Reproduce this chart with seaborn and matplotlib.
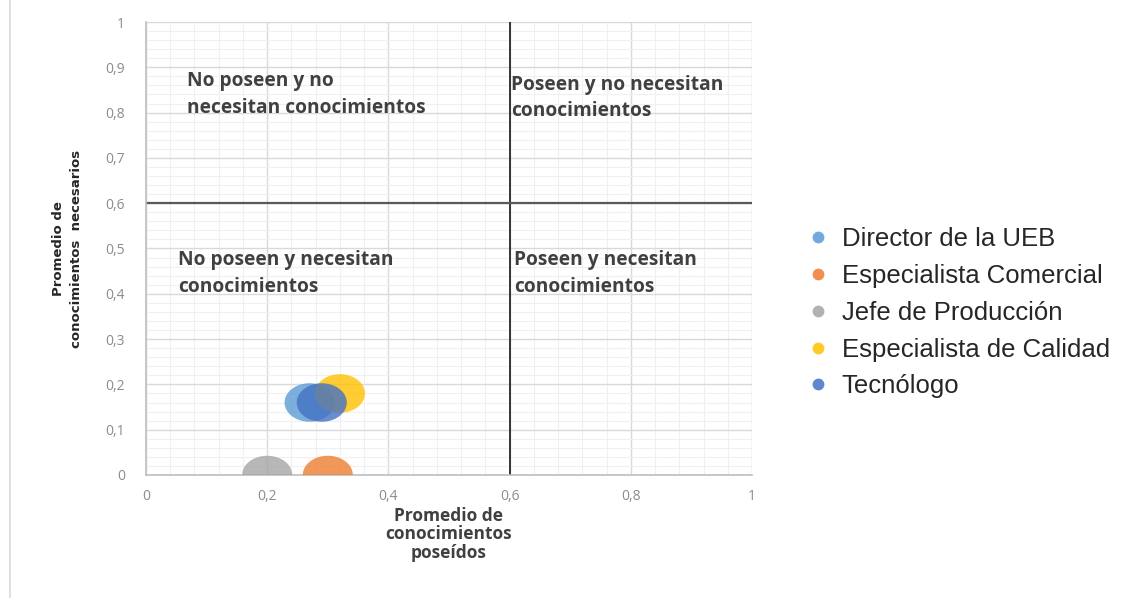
import numpy as np
import pandas as pd
import matplotlib.pyplot as plt
import seaborn as sns
from matplotlib.path import Path
from matplotlib.lines import Line2D
from matplotlib.ticker import MultipleLocator, FuncFormatter

# Data
cargos = ["Director de la UEB", "Especialista Comercial", "Jefe de Producción",
          "Especialista de Calidad", "Tecnólogo"]
poseidos = [0.27, 0.30, 0.20, 0.32, 0.29]
necesarios = [0.16, 0.0, 0.0, 0.18, 0.16]
colores = ["#5B9BD5", "#ED7D31", "#A5A5A5", "#FFC000", "#4472C4"]

cuadrantes = ["No poseen y no\nnecesitan conocimientos",
              "Poseen y no necesitan\nconocimientos",
              "No poseen y necesitan\nconocimientos",
              "Poseen y necesitan\nconocimientos"]
cuad_x = [0.068, 0.602, 0.053, 0.607]
cuad_y = [0.84, 0.832, 0.445, 0.445]

df = pd.DataFrame({"cargo": cargos, "poseidos": poseidos, "necesarios": necesarios})

sns.set_style("white")
plt.rcParams['font.family'] = ['Open Sans', 'DejaVu Sans']

fig = plt.figure(figsize=(11.35, 5.98), dpi=100)
ax = fig.add_axes([146/1135, 123/598, 606/1135, 453/598])

# ellipse shaped bubble (chart image is stretched horizontally)
t = np.linspace(0, 2*np.pi, 80)
elipse = Path(np.column_stack([1.3*np.cos(t), np.sin(t)]))

sns.scatterplot(data=df, x="poseidos", y="necesarios", hue="cargo",
                palette=colores, marker=elipse, s=1300, alpha=0.8,
                linewidth=0, legend=False, ax=ax, zorder=3)

# grid
ax.set_xlim(0, 1)
ax.set_ylim(0, 1)
ax.xaxis.set_major_locator(MultipleLocator(0.2))
ax.yaxis.set_major_locator(MultipleLocator(0.1))
ax.xaxis.set_minor_locator(MultipleLocator(0.04))
ax.yaxis.set_minor_locator(MultipleLocator(0.02))
ax.grid(True, which='major', color='#D9D9D9', linewidth=1.0)
ax.grid(True, which='minor', color='#F0F0F0', linewidth=0.8)
ax.set_axisbelow(True)

fmt = FuncFormatter(lambda v, p: ("%g" % round(v, 2)).replace(".", ","))
ax.xaxis.set_major_formatter(fmt)
ax.yaxis.set_major_formatter(fmt)
ax.tick_params(axis='both', which='major', colors='#BFBFBF', labelcolor='#8C8C8C',
               labelsize=10, length=5, width=1, direction='out')
ax.tick_params(axis='both', which='minor', length=0)
ax.tick_params(axis='x', pad=5)
ax.tick_params(axis='y', pad=10)

for s in ['top', 'right']:
    ax.spines[s].set_visible(False)
for s in ['left', 'bottom']:
    ax.spines[s].set_color('#BFBFBF')
    ax.spines[s].set_linewidth(1.2)

# quadrant lines
ax.axvline(0.6, color='#262626', linewidth=1.3, zorder=2)
ax.axhline(0.6, color='#595959', linewidth=1.6, zorder=2)

for txt, x, y in zip(cuadrantes, cuad_x, cuad_y):
    ax.text(x, y, txt, fontsize=13.8, color='#404040', fontweight='bold',
            ha='left', va='center', linespacing=1.45)

ax.set_xlabel("Promedio de\nconocimientos\nposeídos", fontsize=12.5,
              fontweight='bold', color='#404040', linespacing=1.05, labelpad=2)
ax.set_ylabel("Promedio de\nconocimientos  necesarios", fontsize=9.5,
              fontweight='bold', color='#262626', linespacing=1.5, labelpad=16,
              family=['Liberation Sans Narrow', 'DejaVu Sans'])

# legend
handles = [Line2D([0], [0], marker='o', linestyle='', markersize=8.5,
                  markerfacecolor=c, markeredgecolor='none', alpha=0.85) for c in colores]
fig.legend(handles, cargos, loc='upper left', bbox_to_anchor=(812/1135, 1 - 227/598),
           frameon=False, prop={'family': 'Liberation Sans', 'size': 18.5},
           handlelength=0.5, handletextpad=0.65, labelspacing=0.5, borderpad=0,
           borderaxespad=0, labelcolor='#262626')

# outer frame line on the left
fig.add_artist(Line2D([10/1135, 10/1135], [0, 1], color='#D9D9D9', linewidth=1.2))

fig.savefig("out.png", dpi=100)
